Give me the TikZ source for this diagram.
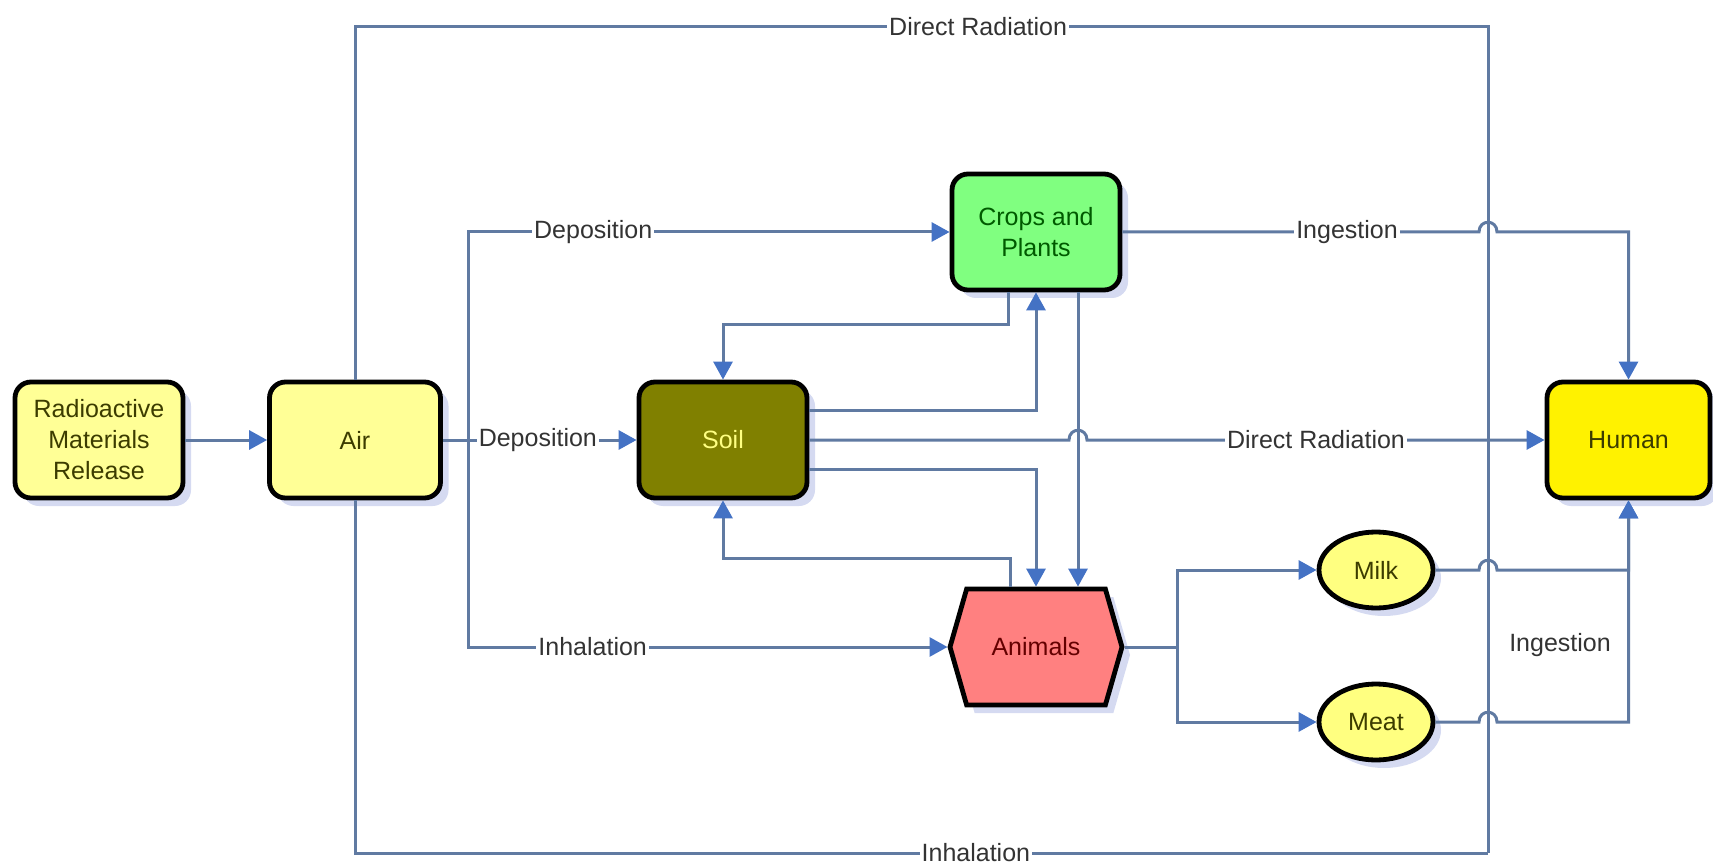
\documentclass[tikz,border=0pt]{standalone}
\usepackage{fontspec}
\setmainfont{Liberation Sans}
\usetikzlibrary{arrows.meta}
\usetikzlibrary{calc}
\usetikzlibrary{shapes.geometric}
\usetikzlibrary{shapes.symbols}
\usetikzlibrary{shadows}
\definecolor{lineblue}{RGB}{96,122,162}
\definecolor{tipblue}{RGB}{68,114,196}
\definecolor{paleyellow}{RGB}{255,255,150}
\definecolor{soilolive}{RGB}{128,128,0}
\definecolor{cropgreen}{RGB}{128,255,128}
\definecolor{animalred}{RGB}{255,128,128}
\definecolor{shadowblue}{RGB}{208,214,240}
\definecolor{darkolive}{RGB}{60,60,0}
\newcommand{\hop}[2]{-- (#1-9,#2) .. controls +(0,-13) and +(0,-13) .. (#1+9,#2)}

\tikzset{
  every node/.style={font=\fontsize{12.5}{15.5}\selectfont},
  box/.style={draw=black, line width=2.4pt, rounded corners=8pt, minimum width=84pt,
    minimum height=58pt, align=center, inner sep=2pt, text=darkolive,
    drop shadow={fill=shadowblue, opacity=0.9, shadow xshift=4pt, shadow yshift=-4pt}},
  food/.style={box, shape=ellipse, rounded corners=0pt, minimum width=57pt, minimum height=38pt,
    inner sep=0pt, fill={rgb,255:red,255;green,255;blue,128}},
  flow/.style={draw=lineblue, line width=1.5pt, -{Triangle[length=9pt,width=9.5pt,color=tipblue]}},
  line/.style={draw=lineblue, line width=1.5pt},
  lbl/.style={fill=white, inner sep=1pt, text=black!80}
}

\begin{document}
\begin{tikzpicture}[x=0.5pt,y=-0.5pt]
\useasboundingbox (0,0) rectangle (1713,866);

\node[box, fill=paleyellow] (release) at (99,440) {Radioactive\\Materials\\Release}; %source
\node[box, fill=paleyellow, minimum width=85.5pt] (air) at (355,440) {Air};
\node[box, fill=soilolive, text={rgb,255:red,255;green,255;blue,130}] (soil) at (723,440) {Soil};
\node[box, fill=cropgreen, text={rgb,255:red,0;green,90;blue,0}] (crops) at (1036,232) {Crops and\\Plants};
\node[box, shape=signal, signal to=east and west, signal pointer angle=148, rounded corners=0pt,
  minimum width=86pt, fill=animalred, text={rgb,255:red,100;green,0;blue,0}] (animals) at (1036,647) {Animals};
\node[box, fill=yellow, minimum width=81.5pt] (human) at (1628.5,440) {Human};
\node[food] (milk) at (1376,570) {Milk};
\node[food] (meat) at (1376,722) {Meat};

% air goes everywhere
\draw[flow] (release) -- (air);
\coordinate (ne) at (1488,27);
\coordinate (se) at (1488,853);
\draw[line] (air.north) -- (air.north |- ne) -- node[lbl,pos=0.55] {Direct Radiation} (ne) -- (se);
\draw[line] (air.south) -- (air.south |- se) -- node[lbl,pos=0.548] {Inhalation} (se);

\coordinate (fork) at (468,440);
\draw[flow] (air.east) -- node[lbl,pos=0.49] {Deposition} (soil.west);
\draw[flow] (fork) -- (fork |- crops.west) -- node[lbl,pos=0.26] {Deposition} (crops.west);
\draw[flow] (fork) -- (fork |- animals.west) -- node[lbl,pos=0.26] {Inhalation} (animals.west);

% soil, crops, animals
\draw[flow] ($(crops.south)+(-28,0)$) -- ++(0,32) -| (soil.north);
\draw[flow] ($(soil.east)+(0,-30)$) -| (crops.south);
\draw[flow] ($(soil.east)+(0,29)$) -| (animals.north);
\draw[flow] ($(crops.south)+(42,0)$) -- ($(animals.north)+(42,0)$);
\draw[flow] ($(animals.north)+(-26,0)$) -- ++(0,-28) -| (soil.south);

\coordinate (split) at (1177,647);
\draw[line] (animals.east) -- (split);
\draw[flow] (split) |- (milk.west);
\draw[flow] (split) |- (meat.west);

% to human
\draw[flow] (soil.east) \hop{1078}{440} -- (human.west);
\draw[flow] (crops.east) \hop{1488}{232} -| (human.north);
\draw[flow] (milk.east) \hop{1488}{570} -| (human.south);
\draw[flow] (meat.east) \hop{1488}{722} -| (human.south);

\node[lbl] (radlbl) at (1316,440) {Direct Radiation};
\node[lbl] (inglbl) at (1347,232) {Ingestion};
\node[lbl] (ingfood) at (1560,645) {Ingestion};
\end{tikzpicture}
\end{document}
